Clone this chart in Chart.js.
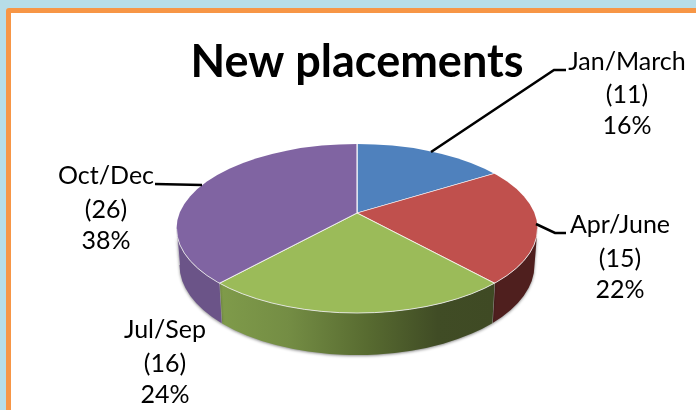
<!DOCTYPE html>
<html>
<head>
<meta charset="utf-8">
<script src="https://cdn.jsdelivr.net/npm/chart.js@4"></script>
<style>
  html, body { margin: 0; height: 100%; overflow: hidden; background: #b7dde8; }
  .panel {
    position: absolute; left: 6px; top: 8px; width: 760px; height: 480px;
    box-sizing: border-box; border: 5px solid #f79646; border-radius: 3px; background: #fff;
  }
  .wrap { position: absolute; left: 0; top: 0; width: 696px; height: 410px; }
</style>
</head>
<body>
<div class="panel"></div>
<div class="wrap"><canvas id="pie_chart"></canvas></div>
<script>
const categories = ["Jan/March", "Apr/June", "Jul/Sep", "Oct/Dec"];
const placements = [11, 15, 16, 26];
const sliceColors = ["#4f81bd", "#c0504d", "#9bbb59", "#8064a2"];

Chart.defaults.responsive = true;
Chart.defaults.maintainAspectRatio = false;
Chart.defaults.animation = false;

const FONT = "Lato, Carlito, sans-serif";
const total = placements.reduce((a, b) => a + b, 0);

// the disc seen at a tilt: the apex sits above the middle of the rim
const apex = { x: 357, y: 213 };
const rim = { x: 357, y: 228.5, rx: 180.5, ry: 84.5 };
const floor = { x: 357, y: 265, rx: 177.5, ry: 90 };
const tilt = 0.465;
const reach = 250;

// label anchors and leader lines, one per category
const labelLayout = [
  { x: 627, y: [70, 103, 134], line: [[431, 152], [554, 70], [566, 70]] },
  { x: 620, y: [233, 267, 298], line: [[536, 224], [555, 233], [566, 233]] },
  { x: 165, y: [338, 372, 403], line: null },
  { x: 106, y: [184, 218, 249], line: [[155, 184], [202, 185]] },
];

const rimAngle = (angle) => {
  // where a spoke leaving the apex meets the rim, as an angle on the rim ellipse
  const dx = Math.cos(angle) / rim.rx;
  const dy = (Math.sin(angle) * tilt) / rim.ry;
  const oy = (apex.y - rim.y) / rim.ry;
  const a = dx * dx + dy * dy;
  const b = 2 * oy * dy;
  const c = oy * oy - 1;
  const t = (-b + Math.sqrt(b * b - 4 * a * c)) / (2 * a);
  const phi = Math.atan2(oy + t * dy, t * dx);
  return phi < -Math.PI / 2 ? phi + Math.PI * 2 : phi;
};

const wallFill = (ctx, index) => {
  if (index === 2) {
    const g = ctx.createLinearGradient(220, 0, 492, 0);
    g.addColorStop(0, "#7f9b4a");
    g.addColorStop(0.25, "#748d44");
    g.addColorStop(0.55, "#576a30");
    g.addColorStop(0.8, "#404c25");
    g.addColorStop(1, "#3f4a24");
    return g;
  }
  return ["#3b5a80", "#4f1f1e", "", "#6b5488"][index];
};

const tiltedPie = {
  id: "tiltedPie",
  beforeDatasetDraw(chart, args) {
    const { ctx } = chart;
    const arcs = args.meta.data;

    // side walls of the slices facing the viewer
    arcs.forEach((arc, i) => {
      const from = Math.max(0, rimAngle(arc.startAngle));
      let to = rimAngle(arc.endAngle);
      if (i === arcs.length - 1) to = Math.PI * 1.5;
      to = Math.min(Math.PI, to);
      if (to <= from) return;
      ctx.save();
      ctx.beginPath();
      ctx.ellipse(rim.x, rim.y, rim.rx, rim.ry, 0, from, to);
      ctx.ellipse(floor.x, floor.y, floor.rx, floor.ry, 0, to, from, true);
      ctx.closePath();
      ctx.shadowColor = "rgba(0,0,0,0.45)";
      ctx.shadowBlur = 3;
      ctx.shadowOffsetY = 1;
      ctx.fillStyle = wallFill(ctx, i);
      ctx.fill();
      ctx.shadowColor = "transparent";
      ctx.strokeStyle = "rgba(220,220,220,0.7)";
      ctx.lineWidth = 1;
      ctx.beginPath();
      ctx.moveTo(rim.x + rim.rx * Math.cos(to), rim.y + rim.ry * Math.sin(to));
      ctx.lineTo(floor.x + floor.rx * Math.cos(to), floor.y + floor.ry * Math.sin(to));
      ctx.stroke();
      ctx.restore();
    });

    // top face: the library's arcs, squashed and cut off at the rim
    const first = arcs[0];
    const scale = reach / first.outerRadius;
    ctx.save();
    ctx.beginPath();
    ctx.ellipse(rim.x, rim.y, rim.rx, rim.ry, 0, 0, Math.PI * 2);
    ctx.clip();
    ctx.translate(apex.x, apex.y);
    ctx.scale(scale, scale * tilt);
    ctx.translate(-first.x, -first.y);
  },
  afterDatasetDraw(chart) {
    const { ctx } = chart;
    ctx.restore();
    ctx.save();
    ctx.strokeStyle = "rgba(235,235,235,0.85)";
    ctx.lineWidth = 1;
    ctx.beginPath();
    ctx.ellipse(rim.x, rim.y, rim.rx, rim.ry, 0, 0, Math.PI);
    ctx.stroke();
    ctx.restore();
  },
  afterDraw(chart) {
    const { ctx } = chart;
    ctx.save();
    ctx.strokeStyle = "#000";
    ctx.lineWidth = 2.5;
    ctx.fillStyle = "#000";
    ctx.font = `25px ${FONT}`;
    ctx.textAlign = "center";
    ctx.textBaseline = "alphabetic";
    categories.forEach((name, i) => {
      const spot = labelLayout[i];
      if (spot.line) {
        ctx.beginPath();
        spot.line.forEach(([x, y], k) => (k ? ctx.lineTo(x, y) : ctx.moveTo(x, y)));
        ctx.stroke();
      }
      const percent = `${Math.round((placements[i] / total) * 100)}%`;
      [name, `(${placements[i]})`, percent].forEach((text, k) => {
        ctx.fillText(text, spot.x, spot.y[k]);
      });
    });
    ctx.restore();
  },
};

new Chart(document.getElementById("pie_chart").getContext("2d"), {
  type: "pie",
  data: {
    labels: categories,
    datasets: [
      {
        data: placements,
        backgroundColor: sliceColors,
        borderColor: "rgba(255,255,255,0.75)",
        borderWidth: 0.7,
        clip: false,
      },
    ],
  },
  options: {
    events: [],
    layout: { padding: { left: 18, top: 35, bottom: 69 } },
    plugins: {
      legend: { display: false },
      tooltip: { enabled: false },
      title: {
        display: true,
        text: "New placements",
        color: "#000",
        font: { family: FONT, size: 45, weight: "bold" },
        padding: { top: 0, bottom: 6 },
      },
    },
  },
  plugins: [tiltedPie],
});
</script>
</body>
</html>
